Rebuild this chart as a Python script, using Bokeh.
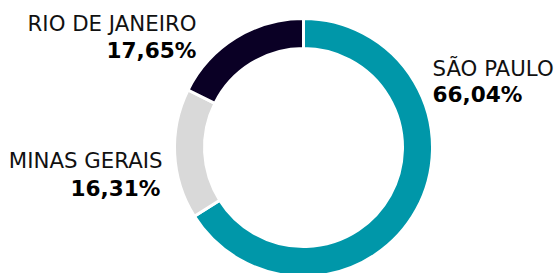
import math
from bokeh.plotting import figure
from bokeh.models import Range1d, ColumnDataSource
from bokeh.core.properties import value
from bokeh.embed import file_html
from bokeh.resources import INLINE

states = ["SÃO PAULO", "MINAS GERAIS", "RIO DE JANEIRO"]
shares = [66.04, 16.31, 17.65]
colors = ["#0097A9", "#D9D9D9", "#0A0025"]
pct_labels = ["66,04%", "16,31%", "17,65%"]

W, H = 554, 273
p = figure(width=W, height=H, output_backend="svg", toolbar_location=None,
           x_range=Range1d(0, W), y_range=Range1d(H, 0),
           min_border=0, outline_line_color=None)
p.axis.visible = False
p.grid.visible = False
p.background_fill_color = "white"
p.border_fill_color = "white"

total = sum(shares)
starts, ends = [], []
acc = 0.0
for s in shares:
    starts.append(math.pi / 2 - acc / total * 2 * math.pi)
    acc += s
    ends.append(math.pi / 2 - acc / total * 2 * math.pi)

src = ColumnDataSource(dict(start=starts, end=ends, color=colors))
cx, cy = 303, 147
p.annular_wedge(x=cx, y=cy, inner_radius=99, outer_radius=129,
                start_angle="start", end_angle="end", direction="clock",
                fill_color="color", line_color="white", line_width=3, source=src)

font = value("DejaVu Sans")
# label layout: (x, name baseline, pct baseline, align, pct x)
layout = {
    "SÃO PAULO": (432, 68, 94, "left", 432),
    "MINAS GERAIS": (162, 160, 188, "right", 160),
    "RIO DE JANEIRO": (196, 23, 50, "right", 196),
}
for name, pct in zip(states, pct_labels):
    x, yn, yp, al, xp = layout[name]
    p.text(x=[x], y=[yn], text=[name], text_font=font, text_font_size="21.3px",
           text_align=al, text_baseline="alphabetic", text_color="#111111")
    p.text(x=[xp], y=[yp], text=[pct], text_font=font, text_font_size="21.6px",
           text_font_style="bold", text_align=al, text_baseline="alphabetic",
           text_color="#000000")

open("out.html", "w").write(file_html(p, INLINE))
